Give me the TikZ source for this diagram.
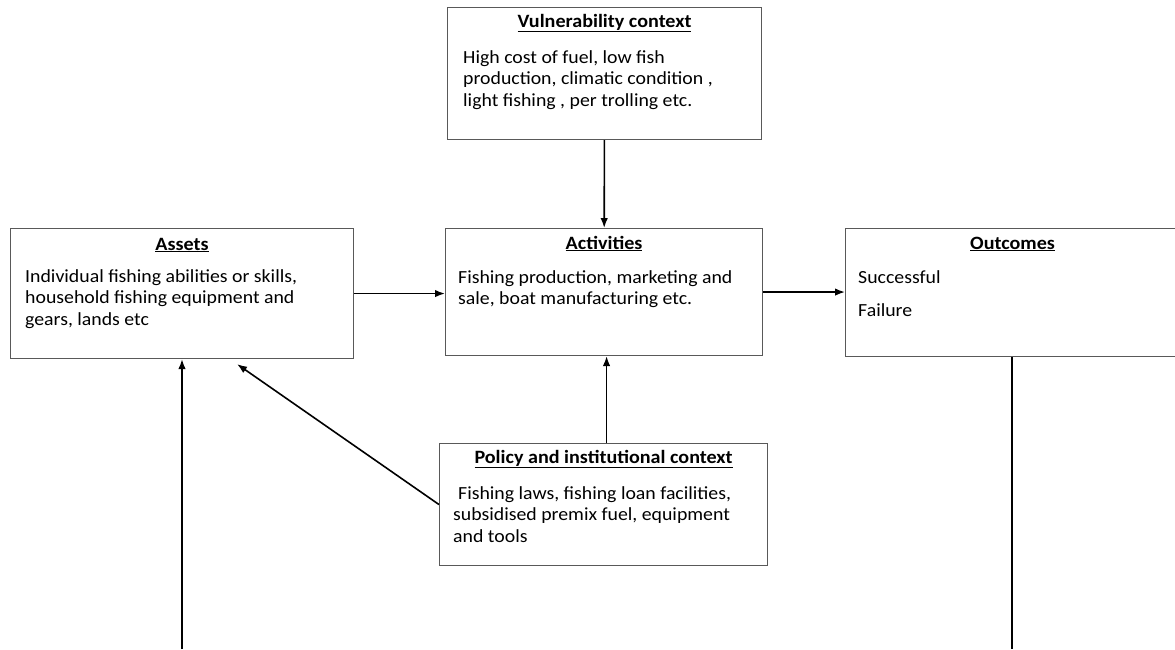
\documentclass[tikz,border=0pt]{standalone}
\usepackage{fontspec}
\setmainfont{Carlito}
\newfontfamily\boxfont[FakeStretch=1.07]{Carlito}
\usepackage{tikz}
\usetikzlibrary{positioning,arrows.meta}

\begin{document}
\begin{tikzpicture}[
  x=1pt, y=-1pt,
  box/.style={rectangle, draw=black!65, line width=1.1pt, anchor=north west, inner sep=0pt},
  head/.style={font=\boxfont\fontsize{18.8}{20}\selectfont\bfseries, inner sep=0pt, anchor=base},
  body/.style={font=\boxfont\fontsize{18.5}{21.5}\selectfont, align=left, inner sep=0pt, anchor=north west},
  link/.style={draw, line width=1.6pt, -{Latex[length=10pt,width=7.5pt]}}
]
\useasboundingbox (0,0) rectangle (1175,649);

% Top box
\node[box, minimum width=314pt, minimum height=132pt] (vuln) at (447,7) {};
\node[head] (vulnhead) at (vuln.north |- 0,27) {\underline{Vulnerability context}};
\node[body] (vulntext) at (463,50) {High cost of fuel, low fish\\production, climatic condition ,\\light fishing , per trolling etc.};

% Middle row
\node[box, minimum width=343pt, minimum height=130pt] (assets) at (10,228) {};
\node[head] (assetshead) at (assets.north |- 0,250) {\underline{Assets}};
\node[body] (assetstext) at (25,269) {Individual fishing abilities or skills,\\household fishing equipment and\\gears, lands etc};

\node[box, minimum width=317pt, minimum height=127pt] (activities) at (445,228) {};
\node[head] (activitieshead) at (activities.north |- 0,249) {\underline{Activities}};
\node[body] (activitiestext) at (458,270) {Fishing production, marketing and\\sale, boat manufacturing etc.};

\node[box, minimum width=334pt, minimum height=128pt] (outcomes) at (845,228) {};
\node[head] (outcomeshead) at (outcomes.north |- 0,249) {\underline{Outcomes}};
\node[body] (outcomestext) at (858,270) {Successful\\[11.5pt]Failure};

% Bottom box
\node[box, minimum width=328pt, minimum height=122pt] (policy) at (439,443) {};
\node[head] (policyhead) at (policy.north |- 0,463) {\underline{Policy and institutional context}};
\node[body] (policytext) at (453,486) {\hspace*{5pt}Fishing laws, fishing loan facilities,\\subsidised premix fuel, equipment\\and tools};

% Loose ends at the bottom
\coordinate (assetsfeed) at (182,649);
\coordinate (outcomesfeed) at (1012,649);

% Arrows
\draw[link] (vuln) -- (activities);
\draw[link] (assets.east) -- (activities.west |- assets.east);
\draw[link] (activities.east) -- (outcomes.west |- activities.east);
\draw[link] ([xshift=3pt]policy.north) -- ([xshift=3pt]policy.north |- activities.south);
\draw[link] (policy.west) -- ([shift={(55pt,-5pt)}]assets.south);
\draw[link] (assetsfeed) -- (assetsfeed |- assets.south);
\draw[line width=1.6pt] (outcomesfeed |- outcomes.south) -- (outcomesfeed);

\end{tikzpicture}
\end{document}
